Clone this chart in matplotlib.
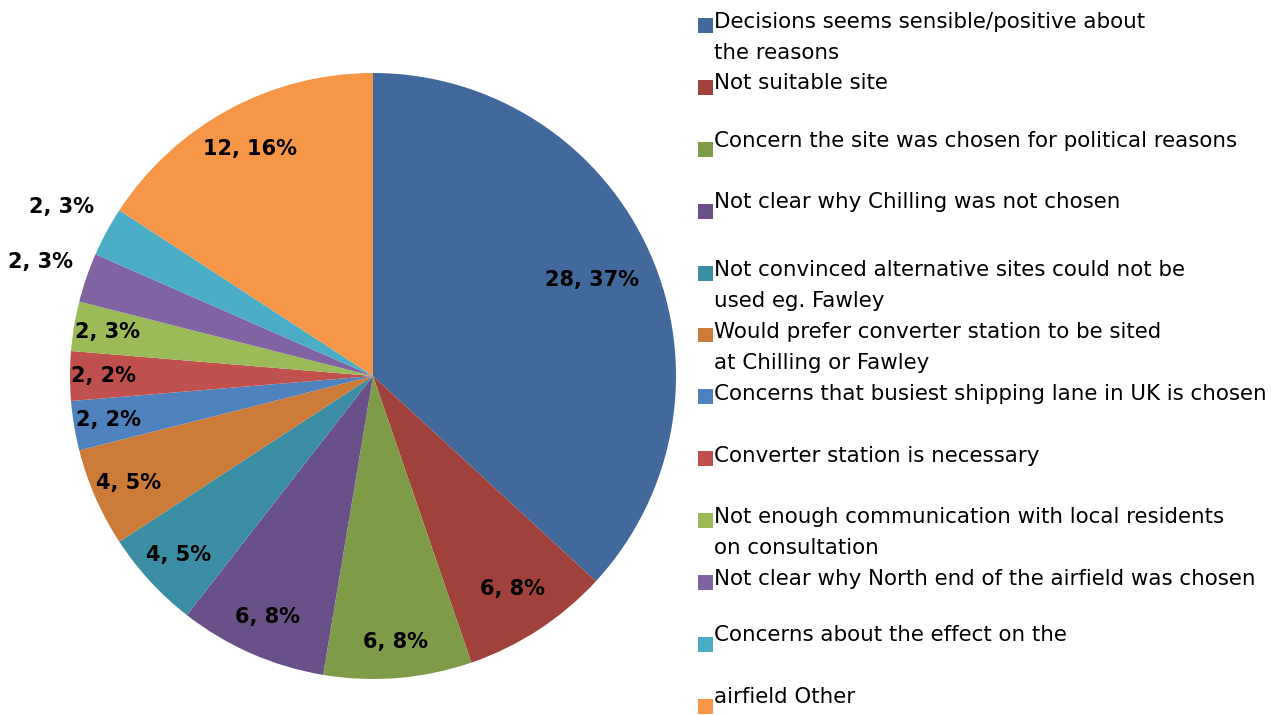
import matplotlib.pyplot as plt
from matplotlib.patches import Rectangle
import numpy as np

# Responses (counts) in clockwise order from 12 o'clock
counts = [28, 6, 6, 6, 4, 4, 2, 2, 2, 2, 2, 12]
pct_labels = ['28, 37%', '6, 8%', '6, 8%', '6, 8%', '4, 5%', '4, 5%',
              '2, 2%', '2, 2%', '2, 3%', '2, 3%', '2, 3%', '12, 16%']
legend_lines = [
    'Decisions seems sensible/positive about\nthe reasons',
    'Not suitable site',
    'Concern the site was chosen for political reasons',
    'Not clear why Chilling was not chosen',
    'Not convinced alternative sites could not be\nused eg. Fawley',
    'Would prefer converter station to be sited\nat Chilling or Fawley',
    'Concerns that busiest shipping lane in UK is chosen',
    'Converter station is necessary',
    'Not enough communication with local residents\non consultation',
    'Not clear why North end of the airfield was chosen',
    'Concerns about the effect on the',
    'airfield Other',
]
colors = ['#41699C', '#A0413C', '#7E9B48', '#6A5088', '#3B8DA3', '#CC7B38',
          '#4F81BD', '#C0504D', '#9BBB59', '#8064A2', '#4BACC6', '#F79646']

# label distance from centre (fraction of radius), like Excel's best fit
label_r = [0.79, 0.84, 0.88, 0.87, 0.87, 0.88, 0.885, 0.89, 0.89, 1.16, 1.17, 0.85]
# legend text first-line centre positions, pixels from top
legend_y = [20, 81, 139, 200, 268, 330, 392, 454, 515, 577, 633, 695]
line_gap = 31
# legend squares are evenly spaced, unlike the text
marker_top0, marker_step = 18, 61.9

W, H = 1288, 715
fig = plt.figure(figsize=(W / 100, H / 100), dpi=100)

cx, cy, r = 373, 376, 303
ax = fig.add_axes([(cx - r) / W, (H - cy - r) / H, 2 * r / W, 2 * r / H])
wedges, _ = ax.pie(counts, colors=colors, startangle=90, counterclock=False,
                   radius=1, wedgeprops=dict(linewidth=0))
ax.set_xlim(-1, 1)
ax.set_ylim(-1, 1)
ax.set_aspect('equal')
ax.axis('off')

for w, lab, lr in zip(wedges, pct_labels, label_r):
    ang = np.deg2rad((w.theta1 + w.theta2) / 2)
    ax.text(lr * np.cos(ang), lr * np.sin(ang), lab, ha='center', va='center',
            fontsize=15, fontweight='bold', color='black', clip_on=False)

# legend drawn by hand to keep Excel's uneven spacing
for k, (txt, col, yc) in enumerate(zip(legend_lines, colors, legend_y)):
    for i, line in enumerate(txt.split('\n')):
        fig.text(714 / W, 1 - (yc + 8 + i * line_gap) / H, line, ha='left',
                 va='baseline', fontsize=15.4, color='black')
    top = marker_top0 + k * marker_step
    fig.patches.append(Rectangle((698 / W, 1 - (top + 15) / H), 15 / W, 15 / H,
                                 transform=fig.transFigure, facecolor=col,
                                 edgecolor='none'))

fig.savefig('out.png', dpi=100)
